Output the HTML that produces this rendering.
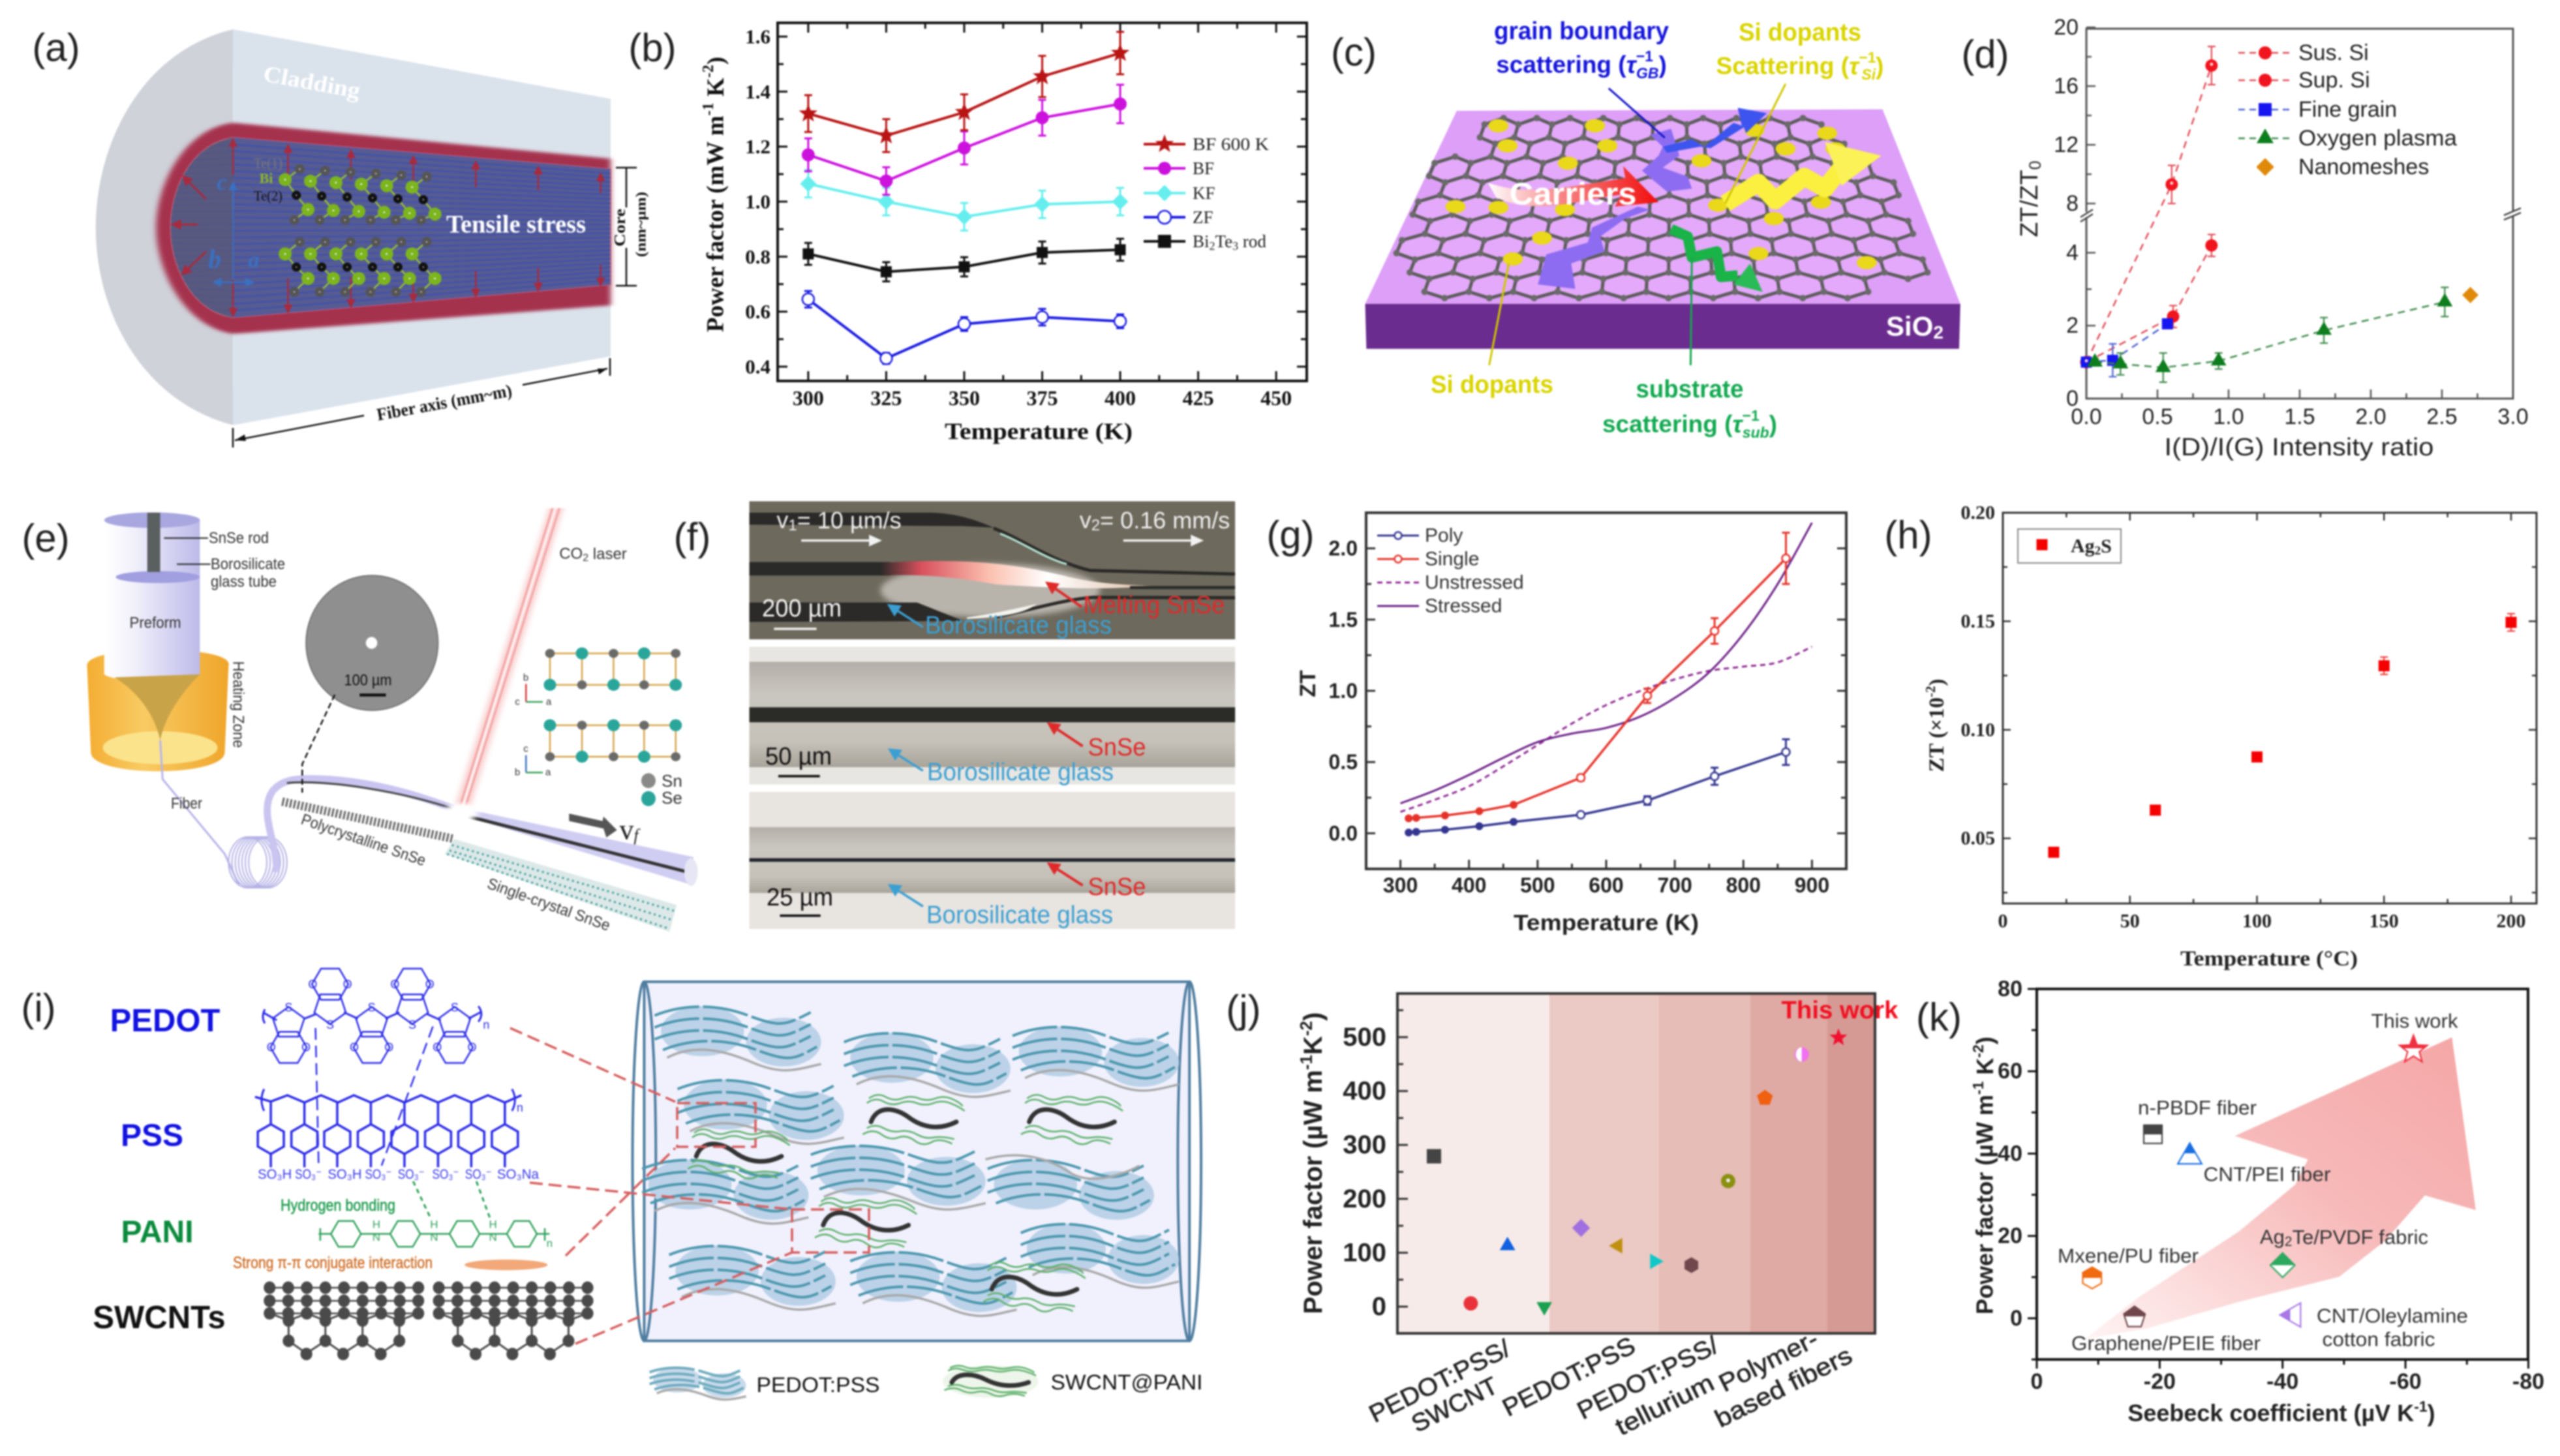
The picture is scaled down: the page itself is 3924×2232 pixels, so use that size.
<!DOCTYPE html>
<html lang="en">
<head>
<meta charset="utf-8">
<title>Thermoelectric fiber figure panels</title>
<style>
html,body{margin:0;padding:0;background:#fff;width:3924px;height:2232px;overflow:hidden}
svg#root{display:block;filter:blur(1.3px)}
text{dominant-baseline:central;text-anchor:middle}
.sn{font-family:"Liberation Sans","Noto Sans CJK SC",sans-serif}
.se{font-family:"Liberation Serif","Noto Serif CJK SC",serif}
.b{font-weight:700}
.l{text-anchor:start}
.r{text-anchor:end}
.pl{font-family:"Liberation Sans","Noto Sans CJK SC",sans-serif;font-size:60px;fill:#222;font-weight:400}
.ns *{vector-effect:non-scaling-stroke}
</style>
</head>
<body>
<svg id="root" xmlns="http://www.w3.org/2000/svg" width="3924" height="2232" viewBox="0 0 3924 2232">
<defs>
  <filter id="soft" x="-10%" y="-10%" width="120%" height="120%"><feGaussianBlur stdDeviation="7 5"/></filter>
  <filter id="soft2" x="-30%" y="-60%" width="160%" height="220%"><feGaussianBlur stdDeviation="9"/></filter>
  <filter id="soft3" x="-100%" y="-10%" width="300%" height="120%"><feGaussianBlur stdDeviation="6 2"/></filter>
  <linearGradient id="redGrad" x1="0" x2="1" y1="0" y2="0"><stop offset="0" stop-color="#fff"/><stop offset=".45" stop-color="#f78080"/><stop offset="1" stop-color="#f10c0c"/></linearGradient>
  <linearGradient id="preformGrad" x1="0" x2="1" y1="0" y2="0"><stop offset="0" stop-color="#fff"/><stop offset=".3" stop-color="#f2f1fb"/><stop offset="1" stop-color="#bdbae9"/></linearGradient>
  <linearGradient id="heatGrad" x1="0" x2="1" y1="0" y2="0"><stop offset="0" stop-color="#f4ad33"/><stop offset=".4" stop-color="#f8cb63"/><stop offset="1" stop-color="#efa52a"/></linearGradient>
  <linearGradient id="glowGrad" x1="0" x2="1" y1="0" y2="0"><stop offset="0" stop-color="#2a2a28"/><stop offset=".15" stop-color="#d8505c"/><stop offset=".4" stop-color="#fbbfae"/><stop offset=".62" stop-color="#fff"/><stop offset="1" stop-color="#e0c0a8"/></linearGradient>
  <linearGradient id="midImgGrad" x1="0" x2="0" y1="0" y2="1"><stop offset="0" stop-color="#b3afa8"/><stop offset=".3" stop-color="#c9c6bf"/><stop offset=".75" stop-color="#c6c2b9"/><stop offset="1" stop-color="#a8a49a"/></linearGradient>
  <linearGradient id="kArrow" x1="0" x2="1" y1="1" y2="0"><stop offset="0" stop-color="#fff4f4"/><stop offset=".55" stop-color="#f7b9b9"/><stop offset="1" stop-color="#f5a6a6"/></linearGradient>
  <clipPath id="coreClip"><path d="M1467,565 L560,460 C460,480 410,630 410,760 C410,890 460,1040 560,1060 L1467,950 Z"/></clipPath>
</defs>
<rect x="0" y="0" width="3924" height="2232" fill="#ffffff"/>

<!-- (a) -->
<g id="panel-a">
  <text class="pl" x="86" y="73">(a)</text>
  <g id="a-art" class="ns" transform="scale(.638,.459)">
    <path d="M560,98 C340,170 230,480 230,760 C230,1040 340,1340 560,1420 Z" fill="#cfd2d9"/>
    <polygon points="560,98 1467,330 1467,1190 560,1420" fill="#dae3ec"/>
    <path d="M1467,530 L560,410 C440,430 375,620 375,760 C375,900 440,1090 560,1115 L1467,1020 Z" fill="#a5324e" filter="url(#soft)"/>
    <path d="M1467,565 L560,460 C460,480 410,630 410,760 C410,890 460,1040 560,1060 L1467,950 Z" fill="#565c92" stroke="#c66a80" stroke-width="2"/>
    <g id="a-stripes" clip-path="url(#coreClip)"></g>
    <path d="M560,460 C460,480 410,630 410,760 C410,890 460,1040 560,1060 Z" fill="#5a5878" opacity=".75"/>
    <line x1="560" y1="610" x2="560" y2="950" stroke="#3a6fc4" stroke-width="2"/>
  </g>
  <g id="a-overlay"></g>
  <text class="se b" x="478" y="126" font-size="35" fill="#fff" textLength="150" lengthAdjust="spacingAndGlyphs" transform="rotate(10.4 478 126)">Cladding</text>
  <text class="se b" x="791" y="344" font-size="39" fill="#fff" textLength="214" lengthAdjust="spacingAndGlyphs">Tensile stress</text>
  <text class="se" x="411" y="250" font-size="22" fill="#777" textLength="44" lengthAdjust="spacingAndGlyphs">Te(1)</text>
  <text class="se b" x="408" y="273" font-size="22" fill="#8fb82a">Bi</text>
  <text class="se" x="411" y="300" font-size="22" fill="#111" textLength="44" lengthAdjust="spacingAndGlyphs">Te(2)</text>
  <text class="se b" x="340" y="280" font-size="34" font-style="italic" fill="#3a70c0">c</text>
  <text class="se b" x="329" y="397" font-size="40" font-style="italic" fill="#3a70c0">b</text>
  <text class="se b" x="389" y="399" font-size="34" font-style="italic" fill="#3a70c0">a</text>
  <g stroke="#111" stroke-width="2.5" fill="none">
    <path d="M944,257H976M960,257V318M960,380V438M944,438H976"/>
  </g>
  <text class="se b" x="951" y="349" font-size="24" fill="#111" transform="rotate(-90 951 349)" textLength="58" lengthAdjust="spacingAndGlyphs">Core</text>
  <text class="se b" x="982" y="344" font-size="22" fill="#111" transform="rotate(-90 982 344)" textLength="100" lengthAdjust="spacingAndGlyphs">(nm~µm)</text>
  <path d="M357,656V686M935,549V576M360,675L558,637M801,590L931,565" stroke="#111" stroke-width="2.5" fill="none"/>
  <polygon points="360,675 375,666 377,676" fill="#111"/>
  <polygon points="931,565 916,565 918,574" fill="#111"/>
  <text class="se b" x="681" y="617" font-size="27" fill="#111" transform="rotate(-10.4 681 617)" textLength="210" lengthAdjust="spacingAndGlyphs">Fiber axis (mm~m)</text>
</g>

<!-- (b) -->
<g id="panel-b">
  <text class="pl" x="1000" y="73">(b)</text>
  <rect x="1192" y="35" width="811" height="549" fill="none" stroke="#111" stroke-width="4"/>
  <g id="b-marks"></g>
  <text class="se b" x="1592" y="661" font-size="36" fill="#111" textLength="288" lengthAdjust="spacingAndGlyphs">Temperature (K)</text>
  <text class="se b" x="1097" y="298" font-size="37" fill="#111" transform="rotate(-90 1097 298)">Power factor (mW m<tspan dy="-11" font-size="24">-1</tspan><tspan dy="11"> K</tspan><tspan dy="-11" font-size="24">-2</tspan><tspan dy="11">)</tspan></text>
  <text class="se l" x="1828" y="221" font-size="27" fill="#222" textLength="117" lengthAdjust="spacingAndGlyphs">BF 600 K</text>
  <text class="se l" x="1828" y="258" font-size="27" fill="#222">BF</text>
  <text class="se l" x="1828" y="296" font-size="27" fill="#222">KF</text>
  <text class="se l" x="1828" y="333" font-size="27" fill="#222">ZF</text>
  <text class="se l" x="1828" y="370" font-size="27" fill="#222">Bi<tspan dy="7" font-size="18">2</tspan><tspan dy="-7">Te</tspan><tspan dy="7" font-size="18">3</tspan><tspan dy="-7"> rod</tspan></text>
</g>

<!-- (c) -->
<g id="panel-c">
  <text class="pl" x="2075" y="80">(c)</text>
  <g id="c-art" class="ns" transform="translate(2000,0) scale(.638,.459)">
    <polygon points="365,370 1388,365 1575,1015 145,1015" fill="#dd9ff7"/>
    <polygon points="145,1015 1575,1015 1572,1165 148,1165" fill="#6a2c8e"/>
    <g id="c-lattice"></g>
    <path d="M830,450 L880,430 L900,520 L860,560 L920,590 L930,630 L870,640 L810,570 L850,520 L860,490 Z" fill="#8d6cf2"/>
    <path d="M800,690 L830,700 L770,730 L710,790 L720,840 L640,880 L650,965 L560,950 L580,850 L680,810 L690,760 Z" fill="#8d6cf2"/>
    <line x1="730" y1="295" x2="865" y2="460" stroke="#1414c8" stroke-width="3"/>
    <path d="M440,610 C540,660 640,620 770,595 L765,555 L850,675 L745,690 L760,650 C650,670 560,720 460,660 Z" fill="url(#redGrad)"/>
    <path d="M860,490 L930,465 L960,490 L1030,410 L1050,420 L1040,360 L1110,378 L1060,445 L1055,425 L975,495 L950,490 L870,510 Z" fill="#3d55ee"/>
    <polyline points="1010,680 1090,610 1130,670 1200,590 1250,630 1300,540" fill="none" stroke="#fbf03f" stroke-width="27" stroke-linejoin="round"/>
    <polygon points="1250,475 1385,520 1290,620" fill="#fbf258"/>
    <polyline points="880,765 920,790 930,860 990,840 1000,925 1040,920" fill="none" stroke="#19b347" stroke-width="16" stroke-linejoin="round"/>
    <polygon points="1070,880 1100,975 1030,950" fill="#29bb55"/>
    <line x1="1155" y1="280" x2="1010" y2="680" stroke="#cfc800" stroke-width="3"/>
    <line x1="490" y1="880" x2="443" y2="1220" stroke="#cfc800" stroke-width="3"/>
    <line x1="930" y1="860" x2="927" y2="1220" stroke="#15a84f" stroke-width="3"/>
  </g>
  <text class="sn b" x="2424" y="48" font-size="38" fill="#1515d8" textLength="268" lengthAdjust="spacingAndGlyphs">grain boundary</text>
  <text class="sn b" x="2424" y="99" font-size="37" fill="#1515d8">scattering (<tspan font-style="italic">τ</tspan><tspan dy="-13" font-size="23">−1</tspan><tspan dy="26" dx="-26" font-size="23" font-style="italic">GB</tspan><tspan dy="-13">)</tspan></text>
  <text class="sn b" x="2759" y="50" font-size="38" fill="#d9d400" textLength="188" lengthAdjust="spacingAndGlyphs">Si dopants</text>
  <text class="sn b" x="2759" y="101" font-size="37" fill="#d9d400">Scattering (<tspan font-style="italic">τ</tspan><tspan dy="-13" font-size="23">−1</tspan><tspan dy="26" dx="-22" font-size="23" font-style="italic">Si</tspan><tspan dy="-13">)</tspan></text>
  <text class="sn b" x="2287" y="590" font-size="38" fill="#d9d400" textLength="188" lengthAdjust="spacingAndGlyphs">Si dopants</text>
  <text class="sn b" x="2590" y="597" font-size="38" fill="#12a850" textLength="165" lengthAdjust="spacingAndGlyphs">substrate</text>
  <text class="sn b" x="2590" y="650" font-size="37" fill="#12a850">scattering (<tspan font-style="italic">τ</tspan><tspan dy="-13" font-size="23">−1</tspan><tspan dy="26" dx="-26" font-size="23" font-style="italic">sub</tspan><tspan dy="-13">)</tspan></text>
  <text class="sn b" x="2411" y="298" font-size="48" fill="#fff" textLength="195" lengthAdjust="spacingAndGlyphs">Carriers</text>
  <text class="sn b" x="2935" y="500" font-size="42" fill="#fff">SiO<tspan dy="9" font-size="28">2</tspan></text>
</g>

<!-- (d) -->
<g id="panel-d">
  <text class="pl" x="3043" y="83">(d)</text>
  <rect x="3198" y="44" width="654" height="567" fill="none" stroke="#555" stroke-width="3"/>
  <g id="d-marks"></g>
  <rect x="3190" y="325" width="20" height="8" fill="#fff"/>
  <rect x="3840" y="323" width="22" height="8" fill="#fff"/>
  <path d="M3189,333L3208,321M3189,340L3208,328M3838,330L3864,319M3838,337L3864,326" stroke="#444" stroke-width="2.5" fill="none"/>
  <text class="sn" x="3524" y="686" font-size="38" fill="#222" textLength="413" lengthAdjust="spacingAndGlyphs">I(D)/I(G) Intensity ratio</text>
  <text class="sn" x="3111" y="305" font-size="38" fill="#222" transform="rotate(-90 3111 305)">ZT/ZT<tspan dy="9" font-size="25">0</tspan></text>
  <text class="sn l" x="3523" y="81" font-size="34" fill="#222">Sus. Si</text>
  <text class="sn l" x="3523" y="123" font-size="34" fill="#222">Sup. Si</text>
  <text class="sn l" x="3523" y="168" font-size="34" fill="#222">Fine grain</text>
  <text class="sn l" x="3523" y="212" font-size="34" fill="#222" textLength="243" lengthAdjust="spacingAndGlyphs">Oxygen plasma</text>
  <text class="sn l" x="3523" y="256" font-size="34" fill="#222">Nanomeshes</text>
</g>

<!-- (e) -->
<g id="panel-e">
  <text class="pl" x="70" y="825">(e)</text>
  <g id="e-art" class="ns" transform="translate(0,740) scale(.733,.459)">
    <path d="M182,610 C182,540 490,540 478,610 L470,900 C470,985 190,985 190,900 Z" fill="url(#heatGrad)"/>
    <ellipse cx="335" cy="885" rx="120" ry="55" fill="#fbe38c"/>
    <path d="M218,130 L218,640 C240,670 400,670 418,640 L418,125 Z" fill="url(#preformGrad)"/>
    <ellipse cx="318" cy="125" rx="100" ry="26" fill="#a9a7e0"/>
    <ellipse cx="330" cy="315" rx="88" ry="20" fill="#a19fe0"/>
    <rect x="308" y="100" width="27" height="198" fill="#5a6060"/>
    <path d="M240,650 C290,700 325,780 335,860 C345,780 380,700 418,640 Z" fill="#c9a347"/>
    <path d="M335,860 L340,990 L470,1240 L500,1345" fill="none" stroke="#b8b4ea" stroke-width="3"/>
    <g id="e-coil" fill="none" stroke="#b3b0e5" stroke-width="2"></g>
    <polygon points="1148,85 1178,85 982,1090 950,1090" fill="#f9cfcf" filter="url(#soft3)"/>
    <line x1="1155" y1="85" x2="960" y2="1090" stroke="#f2a0a0" stroke-width="2.5"/>
    <line x1="1170" y1="85" x2="972" y2="1090" stroke="#f2a0a0" stroke-width="2.5"/>
    <line x1="1162" y1="85" x2="966" y2="1090" stroke="#fff" stroke-width="2"/>
    <path d="M578,1300 C580,1200 540,1100 570,1030 C590,990 620,985 680,990 C800,1000 900,1060 960,1095" fill="none" stroke="#c9c5f0" stroke-width="11"/>
    <path d="M600,1003 C680,990 840,1030 960,1095" fill="none" stroke="#444" stroke-width="3"/>
    <polygon points="960,1085 1450,1250 1450,1345 960,1108" fill="#d0cdf2"/>
    <line x1="980" y1="1115" x2="1450" y2="1305" stroke="#333" stroke-width="5"/>
    <ellipse cx="1445" cy="1300" rx="14" ry="46" fill="#e6e6f4"/>
    <ellipse cx="965" cy="1100" rx="35" ry="30" fill="#fff" filter="url(#soft)"/>
    <ellipse cx="778" cy="535" rx="138" ry="225" fill="#8f8f8f" stroke="#777" stroke-width="2"/>
    <ellipse cx="777" cy="535" rx="12" ry="20" fill="#fff"/>
    <rect x="752" y="704" width="55" height="10" fill="#111"/>
    <path d="M700,708 L632,940 L632,1035" fill="none" stroke="#111" stroke-width="2.5" stroke-dasharray="9 5"/>
    <path d="M343,185H435M370,272H440" stroke="#222" stroke-width="2" fill="none"/>
    <line x1="590" y1="1065" x2="950" y2="1190" stroke="#666" stroke-width="13" stroke-dasharray="3 3"/>
    <polygon points="950,1190 1415,1410 1400,1500 930,1240" fill="#dde8e8"/>
    <path d="M945,1210L1410,1430M940,1228L1405,1460M935,1240L1400,1490" stroke="#3d9f9f" stroke-width="3" stroke-dasharray="3 5" fill="none"/>
    <polygon points="1190,1105 1260,1130 1262,1115 1290,1160 1268,1185 1262,1155 1190,1130" fill="#555"/>
    <g id="e-lattice"></g>
  </g>
  <text class="sn l" x="320" y="825" font-size="24" fill="#333" textLength="92" lengthAdjust="spacingAndGlyphs">SnSe rod</text>
  <text class="sn l" x="323" y="865" font-size="24" fill="#333" textLength="114" lengthAdjust="spacingAndGlyphs">Borosilicate</text>
  <text class="sn l" x="323" y="892" font-size="24" fill="#333" textLength="101" lengthAdjust="spacingAndGlyphs">glass tube</text>
  <text class="sn" x="238" y="955" font-size="24" fill="#333" textLength="79" lengthAdjust="spacingAndGlyphs">Preform</text>
  <text class="sn" x="365" y="1080" font-size="24" fill="#333" transform="rotate(90 365 1080)" textLength="133" lengthAdjust="spacingAndGlyphs">Heating Zone</text>
  <text class="sn" x="286" y="1232" font-size="24" fill="#333" textLength="48" lengthAdjust="spacingAndGlyphs">Fiber</text>
  <text class="sn" x="557" y="1288" font-size="24" fill="#333" transform="rotate(19 557 1288)" textLength="200" lengthAdjust="spacingAndGlyphs">Polycrystalline SnSe</text>
  <text class="sn" x="841" y="1387" font-size="24" fill="#333" transform="rotate(19.6 841 1387)" textLength="198" lengthAdjust="spacingAndGlyphs">Single-crystal SnSe</text>
  <text class="sn" x="909" y="849" font-size="24" fill="#333">CO<tspan dy="6" font-size="16">2</tspan><tspan dy="-6"> laser</tspan></text>
  <text class="sn" x="564" y="1043" font-size="24" fill="#111" textLength="73" lengthAdjust="spacingAndGlyphs">100 µm</text>
  <text class="sn l" x="1014" y="1197" font-size="26" fill="#333">Sn</text>
  <text class="sn l" x="1014" y="1223" font-size="26" fill="#333">Se</text>
  <text class="se" x="964" y="1272" font-size="44" fill="#222">v<tspan dy="8" font-size="26" font-style="italic">f</tspan></text>
  <text class="sn" x="806" y="1039" font-size="15" fill="#333">b</text>
  <text class="sn" x="793" y="1076" font-size="15" fill="#333">c</text>
  <text class="sn" x="841" y="1076" font-size="15" fill="#333">a</text>
  <text class="sn" x="806" y="1148" font-size="15" fill="#333">c</text>
  <text class="sn" x="793" y="1184" font-size="15" fill="#333">b</text>
  <text class="sn" x="840" y="1184" font-size="15" fill="#333">a</text>
</g>

<!-- (f) -->
<g id="panel-f">
  <text class="pl" x="1061" y="823">(f)</text>
  <g class="ns" transform="translate(1120,740) scale(.51,.459)">
    <rect x="56" y="62" width="1460" height="461" fill="#6d695c"/>
    <ellipse cx="780" cy="360" rx="330" ry="90" fill="#b8b4ac" filter="url(#soft2)"/>
    <path d="M56,100 L600,100 C680,102 740,125 790,150 L700,145 L56,140 Z" fill="#2b2a28"/>
    <path d="M790,152 C880,190 960,260 1080,293 L1516,305" fill="none" stroke="#2b2a28" stroke-width="5"/>
    <path d="M56,265 H480 V310 H56 Z" fill="#2a2a28"/>
    <path d="M450,268 C700,250 850,270 1000,310 C1100,340 1200,340 1260,345 C1100,360 950,350 800,340 C650,310 550,305 450,310 Z" fill="url(#glowGrad)"/>
    <rect x="1200" y="345" width="316" height="10" fill="#2a2a28"/>
    <path d="M56,400 H560 L700,462 L56,465 Z" fill="#2b2a28"/>
    <path d="M800,448 C900,425 1000,390 1090,383 L1516,384" fill="none" stroke="#2b2a28" stroke-width="5"/>
    <path d="M710,450 C780,440 860,420 920,405 C880,440 800,450 710,455 Z" fill="#f4f4ee"/>
    <path d="M810,170 C870,195 940,250 1010,272" stroke="#b8e8d8" stroke-width="3" fill="none"/>
    <rect x="56" y="548" width="1460" height="460" fill="#e8e6e2"/>
    <rect x="56" y="598" width="1460" height="352" fill="url(#midImgGrad)"/>
    <rect x="56" y="750" width="1460" height="50" fill="#2b2b28"/>
    <rect x="56" y="1033" width="1460" height="457" fill="#e8e4e0"/>
    <rect x="56" y="1150" width="1460" height="220" fill="url(#midImgGrad)"/>
    <rect x="56" y="1254" width="1460" height="12" fill="#22262e"/>
    <rect x="130" y="484" width="128" height="8" fill="#eee"/>
    <rect x="143" y="976" width="125" height="8" fill="#111"/>
    <rect x="148" y="1442" width="122" height="8" fill="#111"/>
  </g>
  <g id="f-arrows"></g>
  <text class="sn" x="1286" y="797" font-size="36" fill="#eee">v<tspan dy="8" font-size="24">1</tspan><tspan dy="-8">= 10 µm/s</tspan></text>
  <text class="sn" x="1770" y="797" font-size="36" fill="#eee">v<tspan dy="8" font-size="24">2</tspan><tspan dy="-8">= 0.16 mm/s</tspan></text>
  <text class="sn" x="1229" y="933" font-size="38" fill="#f4f4f4" textLength="122" lengthAdjust="spacingAndGlyphs">200 µm</text>
  <text class="sn" x="1769" y="928" font-size="38" fill="#df2a2a" textLength="217" lengthAdjust="spacingAndGlyphs">Melting SnSe</text>
  <text class="sn" x="1561" y="959" font-size="38" fill="#3c9fd2" textLength="286" lengthAdjust="spacingAndGlyphs">Borosilicate glass</text>
  <text class="sn" x="1712" y="1146" font-size="38" fill="#df2a2a" textLength="89" lengthAdjust="spacingAndGlyphs">SnSe</text>
  <text class="sn" x="1224" y="1160" font-size="38" fill="#111" textLength="102" lengthAdjust="spacingAndGlyphs">50 µm</text>
  <text class="sn" x="1564" y="1184" font-size="38" fill="#3c9fd2" textLength="286" lengthAdjust="spacingAndGlyphs">Borosilicate glass</text>
  <text class="sn" x="1712" y="1360" font-size="38" fill="#df2a2a" textLength="89" lengthAdjust="spacingAndGlyphs">SnSe</text>
  <text class="sn" x="1226" y="1376" font-size="38" fill="#111" textLength="102" lengthAdjust="spacingAndGlyphs">25 µm</text>
  <text class="sn" x="1563" y="1403" font-size="38" fill="#3c9fd2" textLength="286" lengthAdjust="spacingAndGlyphs">Borosilicate glass</text>
</g>

<!-- (g) -->
<g id="panel-g">
  <text class="pl" x="1978" y="820">(g)</text>
  <rect x="2094" y="786" width="736" height="546" fill="none" stroke="#333" stroke-width="4"/>
  <g id="g-marks"></g>
  <text class="sn b" x="2462" y="1415" font-size="34" fill="#222" textLength="284" lengthAdjust="spacingAndGlyphs">Temperature (K)</text>
  <text class="sn b" x="2005" y="1048" font-size="34" fill="#222" transform="rotate(-90 2005 1048)">ZT</text>
  <text class="sn l" x="2184" y="821" font-size="30" fill="#333">Poly</text>
  <text class="sn l" x="2184" y="857" font-size="30" fill="#333">Single</text>
  <text class="sn l" x="2184" y="893" font-size="30" fill="#333">Unstressed</text>
  <text class="sn l" x="2184" y="929" font-size="30" fill="#333">Stressed</text>
</g>

<!-- (h) -->
<g id="panel-h">
  <text class="pl" x="2925" y="820">(h)</text>
  <rect x="3070" y="786" width="818" height="599" fill="none" stroke="#333" stroke-width="3"/>
  <rect x="3093" y="811" width="158" height="52" fill="#fff" stroke="#888" stroke-width="2"/>
  <g id="h-marks"></g>
  <text class="se b l" x="3174" y="837" font-size="30" fill="#222">Ag<tspan dy="7" font-size="19">2</tspan><tspan dy="-7">S</tspan></text>
  <text class="se b" x="3478" y="1470" font-size="33" fill="#222" textLength="272" lengthAdjust="spacingAndGlyphs">Temperature (°C)</text>
  <text class="se b" x="2969" y="1112" font-size="33" fill="#222" transform="rotate(-90 2969 1112)">ZT (×10<tspan dy="-10" font-size="21">-2</tspan><tspan dy="10">)</tspan></text>
</g>

<!-- (i) -->
<g id="panel-i">
  <text class="pl" x="59" y="1545">(i)</text>
  <text class="sn b" x="253" y="1565" font-size="49" fill="#1212e0">PEDOT</text>
  <text class="sn b" x="233" y="1741" font-size="48" fill="#1212e0">PSS</text>
  <text class="sn b" x="241" y="1889" font-size="48" fill="#0a8a3c">PANI</text>
  <text class="sn b" x="244" y="2020" font-size="49" fill="#111">SWCNTs</text>
  <g id="i-chem" class="ns" transform="translate(0,1480) scale(.606,.4796)">
    <ellipse cx="1280" cy="957" rx="105" ry="17" fill="#f2a878"/>
  </g>
  <g id="i-chem-text"></g>
  <text class="sn" x="518" y="1848" font-size="25" fill="#1b9a4c" stroke="#1b9a4c" stroke-width=".5" textLength="176" lengthAdjust="spacingAndGlyphs">Hydrogen bonding</text>
  <text class="sn" x="510" y="1936" font-size="25" fill="#d0702a" stroke="#d0702a" stroke-width=".5" textLength="306" lengthAdjust="spacingAndGlyphs">Strong π-π conjugate interaction</text>
  <g id="i-fiber" class="ns" transform="translate(930,1480) scale(.638,.4796)">
    <rect x="90" y="52" width="1310" height="1148" fill="#f1f1fd" stroke="#4f7da0" stroke-width="4"/>
    <ellipse cx="90" cy="626" rx="28" ry="574" fill="none" stroke="#4f7da0" stroke-width="4"/>
    <ellipse cx="1400" cy="626" rx="28" ry="574" fill="none" stroke="#4f7da0" stroke-width="4"/>
    <defs>
      <g id="bundleBody">
        <ellipse cx="120" cy="90" rx="100" ry="80" fill="#bcd2e8"/>
        <ellipse cx="315" cy="125" rx="90" ry="78" fill="#bcd2e8"/>
        <path d="M5,40 C70,5 150,0 230,40 S320,70 380,30" fill="none" stroke="#4b97ae" stroke-width="4" stroke-dasharray="70 6"/>
        <path d="M5,78 C70,43 150,38 230,78 S320,108 380,68" fill="none" stroke="#4b97ae" stroke-width="4" stroke-dasharray="70 6"/>
        <path d="M5,116 C70,81 150,76 230,116 S320,146 380,106" fill="none" stroke="#4b97ae" stroke-width="4" stroke-dasharray="70 6"/>
        <path d="M25,150 C90,115 170,110 250,150 S340,180 395,140" fill="none" stroke="#4b97ae" stroke-width="4" stroke-dasharray="70 6"/>
      </g>
      <path id="bundleGrey" d="M35,175 C100,130 170,150 240,190 S340,215 405,195" fill="none" stroke="#a8a8a8" stroke-width="3.5"/>
      <g id="swcntPani">
        <path d="M0,25 Q20,5 40,20 T80,25 T120,25 T160,25 T200,25 T235,50" fill="none" stroke="#5cb06a" stroke-width="2.5"/>
        <path d="M5,10 Q25,-10 45,5 T85,10 T125,10 T165,10 T205,12 T230,35" fill="none" stroke="#5cb06a" stroke-width="2.5"/>
        <path d="M0,105 Q20,90 40,105 T80,115 T120,125 T160,135 T210,140" fill="none" stroke="#5cb06a" stroke-width="2.5"/>
        <path d="M-10,125 Q15,105 35,125 T75,135 T115,145 T155,150 T205,155" fill="none" stroke="#5cb06a" stroke-width="2.5"/>
        <path d="M10,85 C25,30 70,40 100,70 S170,115 215,85" fill="none" stroke="#333" stroke-width="7" stroke-linecap="round"/>
      </g>
    </defs>
    <g id="i-bundles"></g>
    <g transform="translate(100,1280) scale(.58,.5)"><use href="#bundleBody" opacity=".8"/><use href="#bundleGrey"/></g>
    <ellipse cx="922" cy="1330" rx="115" ry="52" fill="#eef5ea"/>
    <g transform="translate(820,1280)"><use href="#swcntPani" transform="scale(.9,.62)"/></g>
  </g>
  <text class="sn" x="1254" y="2123" font-size="32" fill="#111" textLength="189" lengthAdjust="spacingAndGlyphs">PEDOT:PSS</text>
  <text class="sn" x="1727" y="2119" font-size="32" fill="#111" textLength="233" lengthAdjust="spacingAndGlyphs">SWCNT@PANI</text>
  <g fill="none" stroke="#d65c5c" stroke-width="3.5" stroke-dasharray="20 9">
    <path d="M782,1576L1035,1689"/>
    <path d="M812,1813L1214,1854"/>
    <path d="M867,1925L1035,1760"/>
    <path d="M882,2060L1214,1920"/>
    <rect x="1038" y="1691" width="120" height="67"/>
    <rect x="1214" y="1854" width="118" height="66"/>
  </g>
</g>

<!-- (j) -->
<g id="panel-j">
  <text class="pl" x="1906" y="1547">(j)</text>
  <rect x="2142" y="1523" width="233" height="521" fill="#f6ebe9"/>
  <rect x="2375" y="1523" width="168" height="521" fill="#ebc9c4"/>
  <rect x="2543" y="1523" width="140" height="521" fill="#e6bdb7"/>
  <rect x="2683" y="1523" width="118" height="521" fill="#dfa9a4"/>
  <rect x="2801" y="1523" width="73" height="521" fill="#d69a94"/>
  <rect x="2142" y="1523" width="732" height="521" fill="none" stroke="#333" stroke-width="4"/>
  <g id="j-marks"></g>
  <text class="sn b" x="2820" y="1549" font-size="38" fill="#f01020" textLength="179" lengthAdjust="spacingAndGlyphs">This work</text>
  <text class="sn b" x="2013" y="1783" font-size="40" fill="#222" transform="rotate(-90 2013 1783)">Power factor (µW m<tspan dy="-11" font-size="26">-1</tspan><tspan dy="11">K</tspan><tspan dy="-11" font-size="26">-2</tspan><tspan dy="11">)</tspan></text>
  <text class="sn" x="2207" y="2118" font-size="38" fill="#222" stroke="#222" stroke-width=".7" transform="rotate(-26.6 2207 2118)" textLength="236" lengthAdjust="spacingAndGlyphs">PEDOT:PSS/</text>
  <text class="sn" x="2230" y="2154" font-size="38" fill="#222" stroke="#222" stroke-width=".7" transform="rotate(-26.6 2230 2154)" textLength="142" lengthAdjust="spacingAndGlyphs">SWCNT</text>
  <text class="sn" x="2405" y="2111" font-size="38" fill="#222" stroke="#222" stroke-width=".7" transform="rotate(-27 2405 2111)" textLength="222" lengthAdjust="spacingAndGlyphs">PEDOT:PSS</text>
  <text class="sn" x="2526" y="2113" font-size="38" fill="#222" stroke="#222" stroke-width=".7" transform="rotate(-26.6 2526 2113)" textLength="236" lengthAdjust="spacingAndGlyphs">PEDOT:PSS/</text>
  <text class="sn" x="2552" y="2154" font-size="38" fill="#222" stroke="#222" stroke-width=".7" transform="rotate(-26.6 2552 2154)" textLength="163" lengthAdjust="spacingAndGlyphs">tellurium</text>
  <text class="sn" x="2711" y="2087" font-size="38" fill="#222" stroke="#222" stroke-width=".7" transform="rotate(-26.6 2711 2087)" textLength="164" lengthAdjust="spacingAndGlyphs">Polymer-</text>
  <text class="sn" x="2734" y="2127" font-size="38" fill="#222" stroke="#222" stroke-width=".7" transform="rotate(-26.6 2734 2127)" textLength="229" lengthAdjust="spacingAndGlyphs">based fibers</text>
</g>

<!-- (k) -->
<g id="panel-k">
  <text class="pl" x="2972" y="1559">(k)</text>
  <g class="ns" transform="translate(2920,1480) scale(.64,.4796)">
    <polygon points="430,1195 560,1060 800,850 935,700 965,620 790,545 1310,230 1367,782 1245,735 1150,880 1040,995 800,1075 580,1160" fill="url(#kArrow)"/>
  </g>
  <rect x="3122" y="1516" width="753" height="568" fill="none" stroke="#111" stroke-width="4"/>
  <g id="k-marks"></g>
  <text class="sn" x="3701" y="1565" font-size="31" fill="#333" textLength="133" lengthAdjust="spacingAndGlyphs">This work</text>
  <text class="sn" x="3368" y="1698" font-size="31" fill="#333" textLength="182" lengthAdjust="spacingAndGlyphs">n-PBDF fiber</text>
  <text class="sn" x="3475" y="1800" font-size="31" fill="#333" textLength="195" lengthAdjust="spacingAndGlyphs">CNT/PEI fiber</text>
  <text class="sn" x="3593" y="1896" font-size="31" fill="#333">Ag<tspan dy="7" font-size="21">2</tspan><tspan dy="-7">Te/PVDF fabric</tspan></text>
  <text class="sn" x="3262" y="1925" font-size="31" fill="#333" textLength="216" lengthAdjust="spacingAndGlyphs">Mxene/PU fiber</text>
  <text class="sn" x="3667" y="2017" font-size="31" fill="#333" textLength="232" lengthAdjust="spacingAndGlyphs">CNT/Oleylamine</text>
  <text class="sn" x="3646" y="2053" font-size="31" fill="#333" textLength="173" lengthAdjust="spacingAndGlyphs">cotton fabric</text>
  <text class="sn" x="3320" y="2059" font-size="31" fill="#333" textLength="290" lengthAdjust="spacingAndGlyphs">Graphene/PEIE fiber</text>
  <text class="sn b" x="3497" y="2166" font-size="36" fill="#222">Seebeck coefficient (µV K<tspan dy="-10" font-size="23">-1</tspan><tspan dy="10">)</tspan></text>
  <text class="sn b" x="3042" y="1802" font-size="36" fill="#222" transform="rotate(-90 3042 1802)">Power factor (µW m<tspan dy="-10" font-size="23">-1</tspan><tspan dy="10"> K</tspan><tspan dy="-10" font-size="23">-2</tspan><tspan dy="10">)</tspan></text>
</g>
</svg>

<script>
/* ---------- chart data ---------- */
/* (b) */
const bTemps=[300,325,350,375,400];
const bBF600=[1.32,1.24,1.325,1.455,1.54];
const bBF600Err=[.067,.06,.065,.075,.077];
const bBF=[1.17,1.075,1.195,1.305,1.355];
const bBFErr=[.06,.05,.06,.065,.07];
const bKF=[1.065,1.0,.945,.99,1.0];
const bKFErr=[.05,.05,.05,.05,.05];
const bZF=[.645,.43,.555,.58,.565];
const bZFErr=[.03,.02,.025,.03,.025];
const bRod=[.81,.745,.763,.815,.825];
const bRodErr=[.04,.035,.035,.04,.04];
const bXTicks=[300,325,350,375,400,425,450];
const bXMinor=[312.5,337.5,362.5,387.5,412.5,437.5];
const bYTicks=[0.4,0.6,0.8,1.0,1.2,1.4,1.6];
const bYMinor=[0.5,0.7,0.9,1.1,1.3,1.5];
/* (d) */
const dSusX=[0,.6,.88];
const dSusY=[1,9.3,17.4];
const dSusErr=[0,1.3,1.3];
const dSupX=[0,.61,.88];
const dSupY=[1,2.25,4.2];
const dSupErr=[0,.3,.3];
const dFineX=[0,.185,.57];
const dFineY=[1,1.05,2.05];
const dFineErr=[0,.45,.08];
const dOxyX=[.06,.24,.54,.93,1.67,2.52];
const dOxyY=[1.0,.95,.85,1.03,1.87,2.65];
const dOxyErr=[.1,.3,.4,.22,.35,.4];
const dMeshX=[2.7];
const dMeshY=[2.84];
const dXTicks=[0,.5,1,1.5,2,2.5,3];
const dXMinor=[.25,.75,1.25,1.75,2.25,2.75];
const dYTicks=[0,2,4,8,12,16,20];
const dYMinor=[1,3,10,14,18];
/* (g) */
const gTemps=[312,323,365,415,465,563,660,758,862];
const gPoly=[.005,.01,.025,.05,.08,.13,.23,.40,.57];
const gPolyErr=[0,0,0,0,0,0,.03,.06,.09];
const gSingle=[.105,.108,.125,.155,.20,.39,.965,1.42,1.93];
const gSingleErr=[0,0,0,0,0,.02,.05,.09,.18];
const gCurveT=[300,350,400,450,500,550,600,650,700,750,800,850,900];
const gUnstressed=[.15,.235,.33,.47,.62,.77,.90,1.00,1.08,1.14,1.17,1.20,1.31];
const gStressed=[.21,.30,.41,.53,.64,.70,.74,.82,.95,1.13,1.40,1.75,2.18];
const gXTicks=[300,400,500,600,700,800,900];
const gXMinor=[350,450,550,650,750,850];
const gYTicks=[0,.5,1,1.5,2];
const gYMinor=[.25,.75,1.25,1.75,-.25];
/* (h) */
const hTemps=[20,60,100,150,200];
const hZT=[.0436,.063,.0875,.1295,.1495];
const hErr=[0,0,0,.004,.004];
const hXTicks=[0,50,100,150,200];
const hXMinor=[25,75,125,175];
const hYTicks=[.05,.10,.15,.20];
const hYMinor=[.025,.075,.125,.175];
/* (j) */
const jIndex=[1,2,3,4,5,6,7,8,9,10,11,12];
const jValues=[279,6,113,0,146,113,84,77,233,387,468,499];
const jShapes=['square','circle','up','down','diamond','left','right','hexagon','circle','pentagon','circle','star'];
const jColors=['#444444','#e9333a','#1060e0','#1ca050','#a070e0','#c09010','#10c8c8','#70484c','#8a9010','#f06010','#f070f0','#f01030'];
const jYTicks=[0,100,200,300,400,500];
const jYMinor=[50,150,250,350,450,550];
/* (k) */
const kSeebeck=[-18.9,-24.9,-9,-15.9,-40,-41.8,-61.3];
const kPower=[44.7,39.2,9.8,.2,12.9,.8,65.2];
const kShapes=['square','up','hexagon','pentagon','diamond','left','star'];
const kColors=['#444444','#1a6fe0','#f06a10','#70484c','#2da860','#a878e6','#ee3040'];
const kXTicks=[0,-20,-40,-60,-80];
const kXMinor=[-10,-30,-50,-70];
const kYTicks=[0,20,40,60,80];
const kYMinor=[-10,10,30,50,70];

/* ---------- helpers ---------- */
const root=document.getElementById('root');
const NS=root.namespaceURI;
const $=id=>document.getElementById(id);
function mk(tag,attrs,parent,name){
  const el=document.createElementNS(NS,tag);
  for(const k in attrs){el.setAttribute(k,attrs[k]);}
  
  
  parent.appendChild(el);
  return el;
}
const lin=(d0,d1,r0,r1)=>v=>r0+(v-d0)*(r1-r0)/(d1-d0);
function txt(g,x,y,str,cls,size,fill,name){
  const t=mk('text',{x:x,y:y,class:cls,'font-size':size,fill:fill},g,name);
  t.textContent=str;
  return t;
}
function xTicks(g,sc,vals,y,len,col,w,name){
  vals.forEach(v=>mk('line',{x1:sc(v),x2:sc(v),y1:y,y2:y+len,stroke:col,'stroke-width':w},g,name));
}
function yTicks(g,sc,vals,x,len,col,w,name){
  vals.forEach(v=>mk('line',{x1:x,x2:x+len,y1:sc(v),y2:sc(v),stroke:col,'stroke-width':w},g,name));
}
function regular(n,rot,r,x,y){
  const p=[];
  for(let i=0;i<n;i++){const a=rot+i*2*Math.PI/n;p.push((x+r*Math.cos(a)).toFixed(1)+','+(y+r*Math.sin(a)).toFixed(1));}
  return p.join(' ');
}
function starPts(r,x,y){
  const p=[];
  for(let i=0;i<10;i++){const a=-Math.PI/2+i*Math.PI/5;const q=i%2?r*.42:r;p.push((x+q*Math.cos(a)).toFixed(1)+','+(y+q*Math.sin(a)).toFixed(1));}
  return p.join(' ');
}
function marker(g,shape,x,y,r,fill,stroke,sw,name){
  const st={fill:fill,stroke:stroke,'stroke-width':sw};
  let pts=null;
  if(shape==='circle'){return mk('ellipse',Object.assign({cx:x,cy:y,rx:r,ry:r},st),g,name);}
  if(shape==='square'){return mk('rect',Object.assign({x:x-r,y:y-r,width:2*r,height:2*r},st),g,name);}
  if(shape==='diamond'){pts=regular(4,-Math.PI/2,r*1.25,x,y);}
  if(shape==='up'){pts=regular(3,-Math.PI/2,r*1.25,x,y);}
  if(shape==='down'){pts=regular(3,Math.PI/2,r*1.25,x,y);}
  if(shape==='left'){pts=regular(3,Math.PI,r*1.25,x,y);}
  if(shape==='right'){pts=regular(3,0,r*1.25,x,y);}
  if(shape==='hexagon'){pts=regular(6,-Math.PI/2,r*1.1,x,y);}
  if(shape==='pentagon'){pts=regular(5,-Math.PI/2,r*1.15,x,y);}
  if(shape==='star'){pts=starPts(r*1.5,x,y);}
  return mk('polygon',Object.assign({points:pts},st),g,name);
}
function errBar(g,x,y0,y1,cap,col,w,name){
  mk('path',{d:`M${x-cap},${y0}H${x+cap}M${x},${y0}V${y1}M${x-cap},${y1}H${x+cap}`,stroke:col,'stroke-width':w,fill:'none'},g,name);
}
function linePath(xs,ys,sx,sy){
  return xs.map((x,i)=>(i?'L':'M')+sx(x).toFixed(1)+','+sy(ys[i]).toFixed(1)).join('');
}
function smoothPath(xs,ys,sx,sy){
  const P=xs.map((x,i)=>[sx(x),sy(ys[i])]);
  let d='M'+P[0][0].toFixed(1)+','+P[0][1].toFixed(1);
  for(let i=0;i<P.length-1;i++){
    const p0=P[Math.max(i-1,0)],p1=P[i],p2=P[i+1],p3=P[Math.min(i+2,P.length-1)];
    d+='C'+(p1[0]+(p2[0]-p0[0])/6).toFixed(1)+','+(p1[1]+(p2[1]-p0[1])/6).toFixed(1)+' '+(p2[0]-(p3[0]-p1[0])/6).toFixed(1)+','+(p2[1]-(p3[1]-p1[1])/6).toFixed(1)+' '+p2[0].toFixed(1)+','+p2[1].toFixed(1);
  }
  return d;
}
function arrow(g,x1,y1,x2,y2,col,w,hl,hw,name){
  const a=Math.atan2(y2-y1,x2-x1),bx=x2-hl*Math.cos(a),by=y2-hl*Math.sin(a);
  mk('line',{x1:x1,y1:y1,x2:bx,y2:by,stroke:col,'stroke-width':w},g,name+'-shaft');
  mk('polygon',{points:`${x2},${y2} ${bx+hw*Math.sin(a)},${by-hw*Math.cos(a)} ${bx-hw*Math.sin(a)},${by+hw*Math.cos(a)}`,fill:col},g,name+'-head');
}
const defsEl=root.querySelector('defs');
function hardGrad(id,col,vertical){
  const gr=mk('linearGradient',{id:id,x1:0,y1:0,x2:vertical?0:1,y2:vertical?1:0},defsEl,'half-fill-'+id);
  mk('stop',{offset:'.5','stop-color':col},gr,'half-stop-a');
  mk('stop',{offset:'.5','stop-color':'#fff'},gr,'half-stop-b');
  return 'url(#'+id+')';
}

/* ---------- (a) illustration ---------- */
(function(){
  const st=$('a-stripes');
  for(let i=0;i<=27;i++){
    const t=i/27;
    mk('path',{d:`M380,${760+(t-.5)*560}L560,${460+600*t}L1467,${565+385*t}`,stroke:'#3f4fae','stroke-width':2,fill:'none'},st,'core-layer-line');
  }
  const o=$('a-overlay');
  const zx=x=>.638*x, zy=y=>.459*y;
  const topA=[[560,460,585],[692,480,590],[843,497,600],[993,517,620],[1143,535,625],[1293,552,635],[1443,575,645]];
  const botA=[[560,1060,935],[692,1048,930],[843,1030,925],[993,1012,915],[1143,995,905],[1293,975,895],[1443,958,885]];
  topA.concat(botA).forEach(a=>arrow(o,zx(a[0]),zy(a[2]),zx(a[0]),zy(a[1]),'#a82a3e',2.5,14,7,'stress-arrow'));
  arrow(o,zx(495),zy(665),zx(437),zy(585),'#a82a3e',3,16,8,'stress-arrow-end-upper');
  arrow(o,zx(475),zy(750),zx(410),zy(750),'#a82a3e',3,16,8,'stress-arrow-end-middle');
  arrow(o,zx(495),zy(840),zx(435),zy(920),'#a82a3e',3,16,8,'stress-arrow-end-lower');
  arrow(o,zx(560),zy(943),zx(612),zy(943),'#3a70c0',2.5,14,7,'axis-arrow-a');
  arrow(o,zx(560),zy(943),zx(510),zy(943),'#3a70c0',2.5,14,7,'axis-arrow-b');
  arrow(o,zx(560),zy(700),zx(560),zy(605),'#3a70c0',2.5,14,7,'axis-arrow-c');
  function atom(x,y,r,c,name){
    mk('circle',{cx:zx(x),cy:zy(y),r:r,fill:c},o,name);
    mk('circle',{cx:zx(x),cy:zy(y),r:r*.14,fill:'#eee'},o,name+'-highlight');
  }
  const rows=[[565,600,652,700,735],[808,848,892,930,975]];
  rows.forEach((R,ri)=>{
    for(let i=0;i<6;i++){
      const dx=i*61;
      const skew=ri===0?i*5:0;
      const skew2=ri===0?i*3:0;
      const gt=720+dx,g1=685+dx,bk=712+dx,g2=740+dx,gb=707+dx;
      mk('line',{x1:zx(g1),y1:zy(R[1]+skew),x2:zx(gt),y2:zy(R[0]+skew),stroke:'#9ac231','stroke-width':2.5},o,'bond');
      mk('line',{x1:zx(g1),y1:zy(R[1]+skew),x2:zx(bk),y2:zy(R[2]+skew2),stroke:'#9ac231','stroke-width':2.5},o,'bond');
      mk('line',{x1:zx(bk),y1:zy(R[2]+skew2),x2:zx(g2),y2:zy(R[3]+skew2),stroke:'#9ac231','stroke-width':2.5},o,'bond');
      mk('line',{x1:zx(g2),y1:zy(R[3]+skew2),x2:zx(gb),y2:zy(R[4]),stroke:'#9ac231','stroke-width':2.5},o,'bond');
      atom(gt,R[0]+skew,7.5,'#555','te1-atom');
      atom(g1,R[1]+skew,10,'#7cb51e','bi-atom');
      atom(bk,R[2]+skew2,7,'#111','te2-atom');
      atom(g2,R[3]+skew2,10,'#7cb51e','bi-atom');
      atom(gb,R[4],7.5,'#555','te1-atom');
    }
  });
})();

/* ---------- (b) chart ---------- */
(function(){
  const g=$('b-marks');
  const X=lin(290.2,459.8,1192,2003),Y=lin(.348,1.65,584,35);
  xTicks(g,X,bXTicks,584,-15,'#111',3,'x-tick-major-b');
  xTicks(g,X,bXMinor,584,-9,'#111',3,'x-tick-minor-b');
  xTicks(g,X,bXTicks,35,15,'#111',3,'x-tick-top-b');
  xTicks(g,X,bXMinor,35,9,'#111',3,'x-tick-top-minor-b');
  yTicks(g,Y,bYTicks,1192,15,'#111',3,'y-tick-major-b');
  yTicks(g,Y,bYMinor,1192,9,'#111',3,'y-tick-minor-b');
  yTicks(g,Y,bYTicks,2003,-15,'#111',3,'y-tick-right-b');
  yTicks(g,Y,bYMinor,2003,-9,'#111',3,'y-tick-right-minor-b');
  bXTicks.forEach(v=>txt(g,X(v),610,String(v),'se b',32,'#111','x-tick-label-b'));
  bYTicks.forEach(v=>txt(g,1181,Y(v),v.toFixed(1),'se b r',31,'#111','y-tick-label-b'));
  function series(ys,es,col,shape,fill,sw,r,name){
    ys.forEach((y,i)=>errBar(g,X(bTemps[i]),Y(y+es[i]),Y(y-es[i]),6,col,3,name+'-error-bar'));
    mk('path',{d:linePath(bTemps,ys,X,Y),fill:'none',stroke:col,'stroke-width':4},g,name+'-line');
    ys.forEach((y,i)=>marker(g,shape,X(bTemps[i]),Y(y),r,fill,col,sw,name+'-marker'));
  }
  series(bZF,bZFErr,'#1a1ae0','circle','#fff',2.5,9,'zf');
  series(bRod,bRodErr,'#111','square','#111',0,8.5,'bi2te3-rod');
  series(bKF,bKFErr,'#66eeee','diamond','#66eeee',0,10,'kf');
  series(bBF,bBFErr,'#cc11dd','circle','#cc11dd',0,10,'bf');
  series(bBF600,bBF600Err,'#b81414','star','#b81414',0,10,'bf-600k');
  const Ly=[221,258,296,333,370];
  const Lc=['#b81414','#cc11dd','#66eeee','#1a1ae0','#111'];
  const Ls=['star','circle','diamond','circle','square'];
  const Lf=['#b81414','#cc11dd','#66eeee','#fff','#111'];
  Ly.forEach((y,i)=>{
    mk('line',{x1:1753,x2:1817,y1:y,y2:y,stroke:Lc[i],'stroke-width':4},g,'legend-line-b');
    marker(g,Ls[i],1785,y,10,Lf[i],Lc[i],Lf[i]==='#fff'?2.5:0,'legend-marker-b');
  });
})();

/* ---------- (c) lattice ---------- */
(function(){
  const g=$('c-lattice');
  const rows=9,cols=12;
  const map=(u,v)=>{
    const w=(1340-375)/2+((1490-205)/2-(1340-375)/2)*v, cx=857-10*v;
    return [cx+u*w,405+580*v];
  };
  let fill='',pts='';
  for(let r=0;r<rows;r++){
    for(let c=0;c<cols;c++){
      const du=2/cols,dv=1/rows;
      const cu=-1+du*(c+.5+(r%2)*.5-.25),cv=(r+.5)*dv;
      if(Math.abs(cu)>.85&&(r<2||r>rows-2))continue;
      if(Math.abs(cu)>1)continue;
      const V=[[0,-2/3],[.5,-1/3],[.5,1/3],[0,2/3],[-.5,1/3],[-.5,-1/3]].map(o=>map(cu+o[0]*du,cv+o[1]*dv));
      fill+='M'+V.map(p=>p[0].toFixed(1)+','+p[1].toFixed(1)).join('L')+'Z';
      V.forEach(p=>{pts+='M'+p[0].toFixed(1)+','+p[1].toFixed(1)+'h0';});
    }
  }
  mk('path',{d:fill,fill:'#e4a9fa',stroke:'#5c5c5c','stroke-width':5},g,'graphene-rings');
  mk('path',{d:pts,stroke:'#6a6a6a','stroke-width':10,'stroke-linecap':'round',fill:'none'},g,'graphene-atoms');
  const dop=[[465,420],[697,420],[487,487],[727,487],[632,545],[953,537],[1080,435],[1255,445],[1155,497],[1275,497],[362,690],[465,693],[625,700],[993,685],[1240,675],[1127,730],[570,795],[500,865],[1090,847],[1350,877]];
  dop.forEach(p=>mk('ellipse',{cx:p[0],cy:p[1],rx:24,ry:22,fill:'#e9d91a'},g,'si-dopant'));
})();

/* ---------- (d) chart ---------- */
(function(){
  const g=$('d-marks');
  const X=lin(0,3,3198,3852);
  const Y=v=>v<=5.2?611-55.9*v:312-(v-8)*22.5;
  xTicks(g,X,dXTicks,611,-14,'#555',2.5,'x-tick-major-d');
  xTicks(g,X,dXMinor,611,-8,'#555',2.5,'x-tick-minor-d');
  yTicks(g,Y,dYTicks,3198,14,'#555',2.5,'y-tick-major-d');
  yTicks(g,Y,dYMinor,3198,8,'#555',2.5,'y-tick-minor-d');
  dXTicks.forEach(v=>txt(g,X(v),639,v.toFixed(1),'sn',34,'#222','x-tick-label-d'));
  dYTicks.forEach(v=>txt(g,3186,Y(v),String(v),'sn r',34,'#222','y-tick-label-d'));
  function series(xs,ys,es,col,lineCol,shape,r,name){
    mk('path',{d:linePath(xs,ys,X,Y),fill:'none',stroke:lineCol,'stroke-width':2.5,'stroke-dasharray':'11 8'},g,name+'-line');
    ys.forEach((y,i)=>{if(es[i]>0)errBar(g,X(xs[i]),Y(y+es[i]),Y(y-es[i]),6,lineCol,2.2,name+'-error-bar');});
    ys.forEach((y,i)=>marker(g,shape,X(xs[i]),Y(y),r,col,'none',0,name+'-marker'));
  }
  series(dSusX,dSusY,dSusErr,'#f0141e','#e04a55','circle',9.5,'sus-si');
  series(dSupX,dSupY,dSupErr,'#f0141e','#e04a55','circle',9.5,'sup-si');
  series(dFineX,dFineY,dFineErr,'#1616f0','#4a5fd0','square',8.5,'fine-grain');
  series(dOxyX,dOxyY,dOxyErr,'#0d7d1d','#3f8a4c','up',11,'oxygen-plasma');
  dSusY.forEach((y,i)=>mk('circle',{cx:X(dSusX[i]),cy:Y(y)-2,r:2.5,fill:'#ffd0d0'},g,'sus-si-highlight'));
  dMeshX.forEach((x,i)=>marker(g,'diamond',X(x),Y(dMeshY[i]),10,'#e08a0c','none',0,'nanomesh-marker'));
  const Ly=[81,123,168,212];
  const Lc=['#f0141e','#f0141e','#1616f0','#0d7d1d'];
  const Lk=['#e04a55','#e04a55','#4a5fd0','#3f8a4c'];
  const Ls=['circle','circle','square','up'];
  Ly.forEach((y,i)=>{
    mk('line',{x1:3431,x2:3512,y1:y,y2:y,stroke:Lk[i],'stroke-width':2.5,'stroke-dasharray':'10 7'},g,'legend-line-d');
    marker(g,Ls[i],3472,y,i===3?12:10,Lc[i],'none',0,'legend-marker-d');
  });
  marker(g,'diamond',3472,256,11,'#e08a0c','none',0,'legend-marker-nanomeshes');
})();

/* ---------- (e) details ---------- */
(function(){
  const c=$('e-coil');
  for(let i=0;i<7;i++){mk('ellipse',{cx:518+i*7,cy:1268,rx:40,ry:85},c,'coil-turn');}
  const g=$('e-lattice');
  const xs=[1150,1217,1283,1347,1413];
  function cell(yA,yB,tealFirst){
    mk('path',{d:`M1150,${yA}H1413M1150,${yB}H1413`+xs.map(x=>`M${x},${yA}V${yB}`).join(''),stroke:'#d5a64a','stroke-width':2.5,fill:'none'},g,'lattice-bonds');
    xs.forEach((x,i)=>{
      const t1=(i%2===1)!==tealFirst,t2=!t1;
      mk('ellipse',{cx:x,cy:yA,rx:t1?13:10,ry:t1?20:15,fill:t1?'#2aa59a':'#6a6a68'},g,'lattice-atom');
      mk('ellipse',{cx:x,cy:yB,rx:t2?13:10,ry:t2?20:15,fill:t2?'#2aa59a':'#6a6a68'},g,'lattice-atom');
    });
  }
  cell(570,675,false);
  cell(810,915,true);
  mk('ellipse',{cx:1356,cy:995,rx:15,ry:25,fill:'#8a8a88'},g,'sn-legend-atom');
  mk('ellipse',{cx:1356,cy:1055,rx:15,ry:25,fill:'#2aa59a'},g,'se-legend-atom');
  mk('path',{d:'M1100,732V672',stroke:'#d23a3a','stroke-width':2.5,fill:'none'},g,'axis-b-line');
  mk('path',{d:'M1100,732H1135',stroke:'#3aa05a','stroke-width':2.5,fill:'none'},g,'axis-a-line');
  mk('path',{d:'M1100,968V910',stroke:'#3a70c0','stroke-width':2.5,fill:'none'},g,'axis-c-line');
  mk('path',{d:'M1100,968H1135',stroke:'#3aa05a','stroke-width':2.5,fill:'none'},g,'axis-a-line-2');
})();

/* ---------- (f) arrows ---------- */
(function(){
  const g=$('f-arrows');
  const zx=x=>1120+.51*x, zy=y=>740+.459*y;
  arrow(g,zx(212),zy(193),zx(455),zy(193),'#f2f2f2',3.5,20,9,'speed-arrow-v1');
  arrow(g,zx(1180),zy(193),zx(1422),zy(193),'#f2f2f2',3.5,20,9,'speed-arrow-v2');
  arrow(g,zx(1055),zy(415),zx(945),zy(330),'#df2a2a',4,20,10,'melting-arrow');
  arrow(g,zx(578),zy(482),zx(470),zy(405),'#3c9fd2',3.5,20,10,'glass-arrow-top');
  arrow(g,zx(1058),zy(880),zx(950),zy(800),'#df2a2a',4,20,10,'snse-arrow-middle');
  arrow(g,zx(578),zy(962),zx(472),zy(887),'#3c9fd2',3.5,20,10,'glass-arrow-middle');
  arrow(g,zx(1058),zy(1345),zx(950),zy(1268),'#df2a2a',4,20,10,'snse-arrow-bottom');
  arrow(g,zx(578),zy(1415),zx(472),zy(1340),'#3c9fd2',3.5,20,10,'glass-arrow-bottom');
})();

/* ---------- (g) chart ---------- */
(function(){
  const g=$('g-marks');
  const X=lin(250,950,2094,2830),Y=lin(-.25,2.25,1332,786);
  xTicks(g,X,gXTicks,1332,-14,'#333',3,'x-tick-major-g');
  xTicks(g,X,gXMinor,1332,-8,'#333',3,'x-tick-minor-g');
  yTicks(g,Y,gYTicks,2094,14,'#333',3,'y-tick-major-g');
  yTicks(g,Y,gYMinor,2094,8,'#333',3,'y-tick-minor-g');
  yTicks(g,Y,gYTicks,2830,-14,'#333',3,'y-tick-right-g');
  yTicks(g,Y,gYMinor,2830,-8,'#333',3,'y-tick-right-minor-g');
  gXTicks.forEach(v=>txt(g,X(v),1357,String(v),'sn b',32,'#222','x-tick-label-g'));
  gYTicks.forEach(v=>txt(g,2081,Y(v),v.toFixed(1),'sn b r',32,'#222','y-tick-label-g'));
  mk('path',{d:smoothPath(gCurveT,gUnstressed,X,Y),fill:'none',stroke:'#8e2a92','stroke-width':3,'stroke-dasharray':'8 6'},g,'unstressed-curve');
  mk('path',{d:smoothPath(gCurveT,gStressed,X,Y),fill:'none',stroke:'#6b1f86','stroke-width':3},g,'stressed-curve');
  function series(ys,es,col,name){
    mk('path',{d:linePath(gTemps,ys,X,Y),fill:'none',stroke:col,'stroke-width':3.5},g,name+'-line');
    ys.forEach((y,i)=>{
      if(es[i]>0)errBar(g,X(gTemps[i]),Y(y+es[i]),Y(y-es[i]),6,col,3,name+'-error-bar');
      const open=i>=5;
      marker(g,'circle',X(gTemps[i]),Y(y),6,open?'#fff':col,col,open?2.5:0,name+'-marker');
    });
  }
  series(gPoly,gPolyErr,'#33358f','poly');
  series(gSingle,gSingleErr,'#e5332a','single');
  const Ly=[821,857,893,929],Lc=['#33358f','#e5332a','#8e2a92','#6b1f86'];
  Ly.forEach((y,i)=>{
    const a={x1:2111,x2:2175,y1:y,y2:y,stroke:Lc[i],'stroke-width':3};
    if(i===2)a['stroke-dasharray']='8 6';
    mk('line',a,g,'legend-line-g');
    if(i<2)marker(g,'circle',2143,y,5.5,'#fff',Lc[i],2.5,'legend-marker-g');
  });
})();

/* ---------- (h) chart ---------- */
(function(){
  const g=$('h-marks');
  const X=lin(0,210,3070,3888),Y=lin(.02,.2,1385,786);
  xTicks(g,X,hXTicks,1385,-12,'#333',2.5,'x-tick-major-h');
  xTicks(g,X,hXMinor,1385,-7,'#333',2.5,'x-tick-minor-h');
  xTicks(g,X,hXTicks,786,12,'#333',2.5,'x-tick-top-h');
  xTicks(g,X,hXMinor,786,7,'#333',2.5,'x-tick-top-minor-h');
  yTicks(g,Y,hYTicks,3070,12,'#333',2.5,'y-tick-major-h');
  yTicks(g,Y,hYMinor,3070,7,'#333',2.5,'y-tick-minor-h');
  yTicks(g,Y,hYTicks,3888,-12,'#333',2.5,'y-tick-right-h');
  yTicks(g,Y,hYMinor,3888,-7,'#333',2.5,'y-tick-right-minor-h');
  hXTicks.forEach(v=>txt(g,X(v),1412,String(v),'se b',30,'#222','x-tick-label-h'));
  hYTicks.forEach(v=>txt(g,3058,Y(v),v.toFixed(2),'se b r',30,'#222','y-tick-label-h'));
  hZT.forEach((y,i)=>{
    if(hErr[i]>0)errBar(g,X(hTemps[i]),Y(y+hErr[i]),Y(y-hErr[i]),6,'#f03030',2,'ag2s-error-bar');
    marker(g,'square',X(hTemps[i]),Y(y),8.5,'#f40000','none',0,'ag2s-marker');
  });
  marker(g,'square',3130,835,8.5,'#f40000','none',0,'legend-marker-ag2s');
})();

/* ---------- (i) chemistry & fiber ---------- */
(function(){
  const g=$('i-chem');
  const tg=$('i-chem-text');
  const rx=x=>.606*x, ry=y=>1480+.4796*y;
  const blue='#2a2ae6',green='#2ea05a',dark='#4a4a4a';
  function ring(cx,cy,r,n,rot,col,w,name){
    const p=[];
    for(let i=0;i<n;i++){const a=rot+i*2*Math.PI/n;p.push((cx+r*Math.cos(a)).toFixed(1)+','+(cy+r*1.25*Math.sin(a)).toFixed(1));}
    mk('polygon',{points:p.join(' '),fill:'none',stroke:col,'stroke-width':w},g,name);
  }
  function lab(x,y,s,col,size,name){return txt(tg,rx(x),ry(y),s,'sn',size,col,name);}
  /* PEDOT */
  const penX=[730,835,940,1043,1150];
  penX.forEach((x,i)=>{
    const up=i%2===1;
    ring(x,up?135:185,42,5,up?Math.PI/2:-Math.PI/2,blue,2.5,'thiophene-ring');
    ring(x,up?60:262,46,6,0,blue,2.5,'dioxane-ring');
    lab(x,up?190:135,'S',blue,18,'sulfur-atom');
    lab(x-44,up?60:262,'O',blue,18,'oxygen-atom');
    lab(x+44,up?60:262,'O',blue,18,'oxygen-atom');
  });
  mk('path',{d:'M665,150L700,175M770,170L800,155M870,150L905,170M975,170L1010,150M1080,155L1115,175M1185,170L1215,150',stroke:blue,'stroke-width':3,fill:'none'},g,'pedot-chain');
  mk('path',{d:'M670,140Q660,165 670,185M1210,130Q1225,155 1210,180',stroke:blue,'stroke-width':3,fill:'none'},g,'pedot-brackets');
  lab(1230,190,'n',blue,18,'pedot-repeat');
  mk('path',{d:'M798,200L806,640M1095,195L965,640',stroke:blue,'stroke-width':2.5,'stroke-dasharray':'18 9',fill:'none'},g,'ionic-bond-lines');
  /* PSS */
  const pssX=[685,770,853,938,1023,1108,1192,1277];
  let chain='M645,420L685,435';
  pssX.forEach((x,i)=>{
    chain+=`L${x+42},415`;
    if(i<7)chain+=`L${x+85},438`;
    ring(x,555,38,6,Math.PI/6,blue,3.5,'benzene-ring');
    mk('path',{d:`M${x},438V507M${x},603V645`,stroke:blue,'stroke-width':3.5,fill:'none'},g,'pss-side-bond');
  });
  mk('path',{d:chain,stroke:blue,'stroke-width':3.5,fill:'none'},g,'pss-backbone');
  mk('path',{d:'M668,395Q655,430 668,465M1295,395Q1310,430 1295,465',stroke:blue,'stroke-width':3,fill:'none'},g,'pss-brackets');
  lab(1315,455,'n',blue,18,'pss-repeat');
  const so3X=[695,780,872,957,1040,1127,1210,1310];
  const so3T=['SO₃H','SO₃⁻','SO₃H','SO₃⁻','SO₃⁻','SO₃⁻','SO₃⁻','SO₃Na'];
  const so3W=[52,41,52,41,41,41,41,64];
  so3X.forEach((x,i)=>{
    const t=lab(x,668,so3T[i],'#3838e8',21,'sulfonate-group');
    t.setAttribute('textLength',so3W[i]);
    t.setAttribute('lengthAdjust','spacingAndGlyphs');
  });
  /* PANI */
  const paniX=[875,1025,1175,1320];
  paniX.forEach(x=>ring(x,858,38,6,0,green,2.5,'aniline-ring'));
  mk('path',{d:'M806,858H837M913,858H987M1063,858H1137M1213,858H1282M1358,858H1390M810,840V880M1378,840V880',stroke:green,'stroke-width':2.5,fill:'none'},g,'pani-chain');
  [952,1098,1247].forEach(x=>{lab(x,828,'H',green,17,'hydrogen-atom');lab(x,868,'N',green,17,'nitrogen-atom');});
  lab(1390,888,'n',green,17,'pani-repeat');
  mk('path',{d:'M1045,690L1090,810M1205,690L1240,810',stroke:green,'stroke-width':3,'stroke-dasharray':'7 6',fill:'none'},g,'hydrogen-bond-lines');
  /* SWCNT */
  [0,428].forEach(off=>{
    [1030,1072,1112].forEach(y=>{
      mk('line',{x1:682+off,x2:682+off+376,y1:y,y2:y,stroke:dark,'stroke-width':2.5},g,'cnt-bond');
      for(let i=0;i<9;i++){mk('ellipse',{cx:682+off+i*47,cy:y,rx:15,ry:20,fill:dark},g,'cnt-atom');}
    });
    const up=[730,823,917,1010],low=[775,868,963];
    let d='';
    up.forEach(x=>{d+=`M${x+off},1135V1200`;});
    low.forEach((x,i)=>{d+=`M${up[i]+off},1200L${x+off},1240L${up[i+1]+off},1200`;});
    up.forEach(x=>{d+=`M${x+off},1135L${x-47+off},1112M${x+off},1135L${x+47+off},1112`;});
    mk('path',{d:d,stroke:dark,'stroke-width':3,fill:'none'},g,'cnt-lower-bonds');
    up.forEach(x=>{
      mk('ellipse',{cx:x+off,cy:1135,rx:15,ry:20,fill:dark},g,'cnt-atom');
      mk('ellipse',{cx:x+off,cy:1200,rx:15,ry:20,fill:dark},g,'cnt-atom');
    });
    low.forEach(x=>mk('ellipse',{cx:x+off,cy:1242,rx:15,ry:20,fill:dark},g,'cnt-atom'));
  });
  /* bundles */
  const b=$('i-bundles');
  const bundles=[[110,120,1],[565,205,1],[970,185,1],[165,355,1],[485,565,1.05],[80,610,1],[910,610,1],[990,815,.95],[145,885,1],[580,905,1]];
  bundles.forEach((p,i)=>{
    const gg=mk('g',{transform:`translate(${p[0]},${p[1]}) scale(${p[2]},1)`},b,'pedot-pss-bundle');
    mk('use',{href:'#bundleBody'},gg,'bundle-chains');
    if(i!==6){mk('use',{href:'#bundleGrey'},gg,'bundle-pss-line');}
    else{mk('path',{d:'M0,10 C80,-20 150,5 200,50 S330,60 370,30',fill:'none',stroke:'#a8a8a8','stroke-width':3.5},gg,'bundle-pss-line');}
  });
  const wires=[[625,415],[1005,415],[205,525],[510,745],[915,950]];
  wires.forEach(p=>{
    mk('use',{href:'#swcntPani',transform:`translate(${p[0]},${p[1]})`},b,'swcnt-pani-wire');
  });
})();

/* ---------- (j) chart ---------- */
(function(){
  const g=$('j-marks');
  const X=lin(1,12,2198,2818),Y=lin(-49,581,2043.5,1523);
  yTicks(g,Y,jYTicks,2142,16,'#333',3,'y-tick-major-j');
  yTicks(g,Y,jYMinor,2142,9,'#333',3,'y-tick-minor-j');
  jYTicks.forEach(v=>txt(g,2125,Y(v),String(v),'sn b r',40,'#222','y-tick-label-j'));
  jValues.forEach((v,i)=>{
    const fill=i===10?'#f070f0':jColors[i];
    marker(g,jShapes[i],X(jIndex[i]),Y(v),i===11?9.5:11,fill,'none',0,'comparison-point');
    if(i===10){mk('path',{d:`M${X(jIndex[i])},${Y(v)-11}A9,11 0 0 0 ${X(jIndex[i])},${Y(v)+11}Z`,fill:'#fff'},g,'comparison-point-half');}
    if(i===8){mk('circle',{cx:X(jIndex[i]),cy:Y(v)-1,r:3,fill:'#eee'},g,'comparison-point-highlight');}
  });
})();

/* ---------- (k) chart ---------- */
(function(){
  const g=$('k-marks');
  const X=lin(0,-80,3122,3875.5),Y=lin(-10,80,2084,1516);
  xTicks(g,X,kXTicks,2084,14,'#111',3,'x-tick-major-k');
  xTicks(g,X,kXMinor,2084,8,'#111',3,'x-tick-minor-k');
  yTicks(g,Y,kYTicks,3122,-14,'#111',3,'y-tick-major-k');
  yTicks(g,Y,kYMinor,3122,-8,'#111',3,'y-tick-minor-k');
  kXTicks.forEach(v=>txt(g,X(v),2118,String(v),'sn b',34,'#222','x-tick-label-k'));
  kYTicks.forEach(v=>txt(g,3100,Y(v),String(v),'sn b r',34,'#222','y-tick-label-k'));
  const kSize={square:14,up:17,hexagon:15,pentagon:15,diamond:15,left:17,star:15};
  kPower.forEach((v,i)=>{
    const f=hardGrad('kHalf'+i,kColors[i],i!==5);
    marker(g,kShapes[i],X(kSeebeck[i]),Y(v),kSize[kShapes[i]],f,kColors[i],2.2,'seebeck-point');
  });
})();
</script>
</body>
</html>
